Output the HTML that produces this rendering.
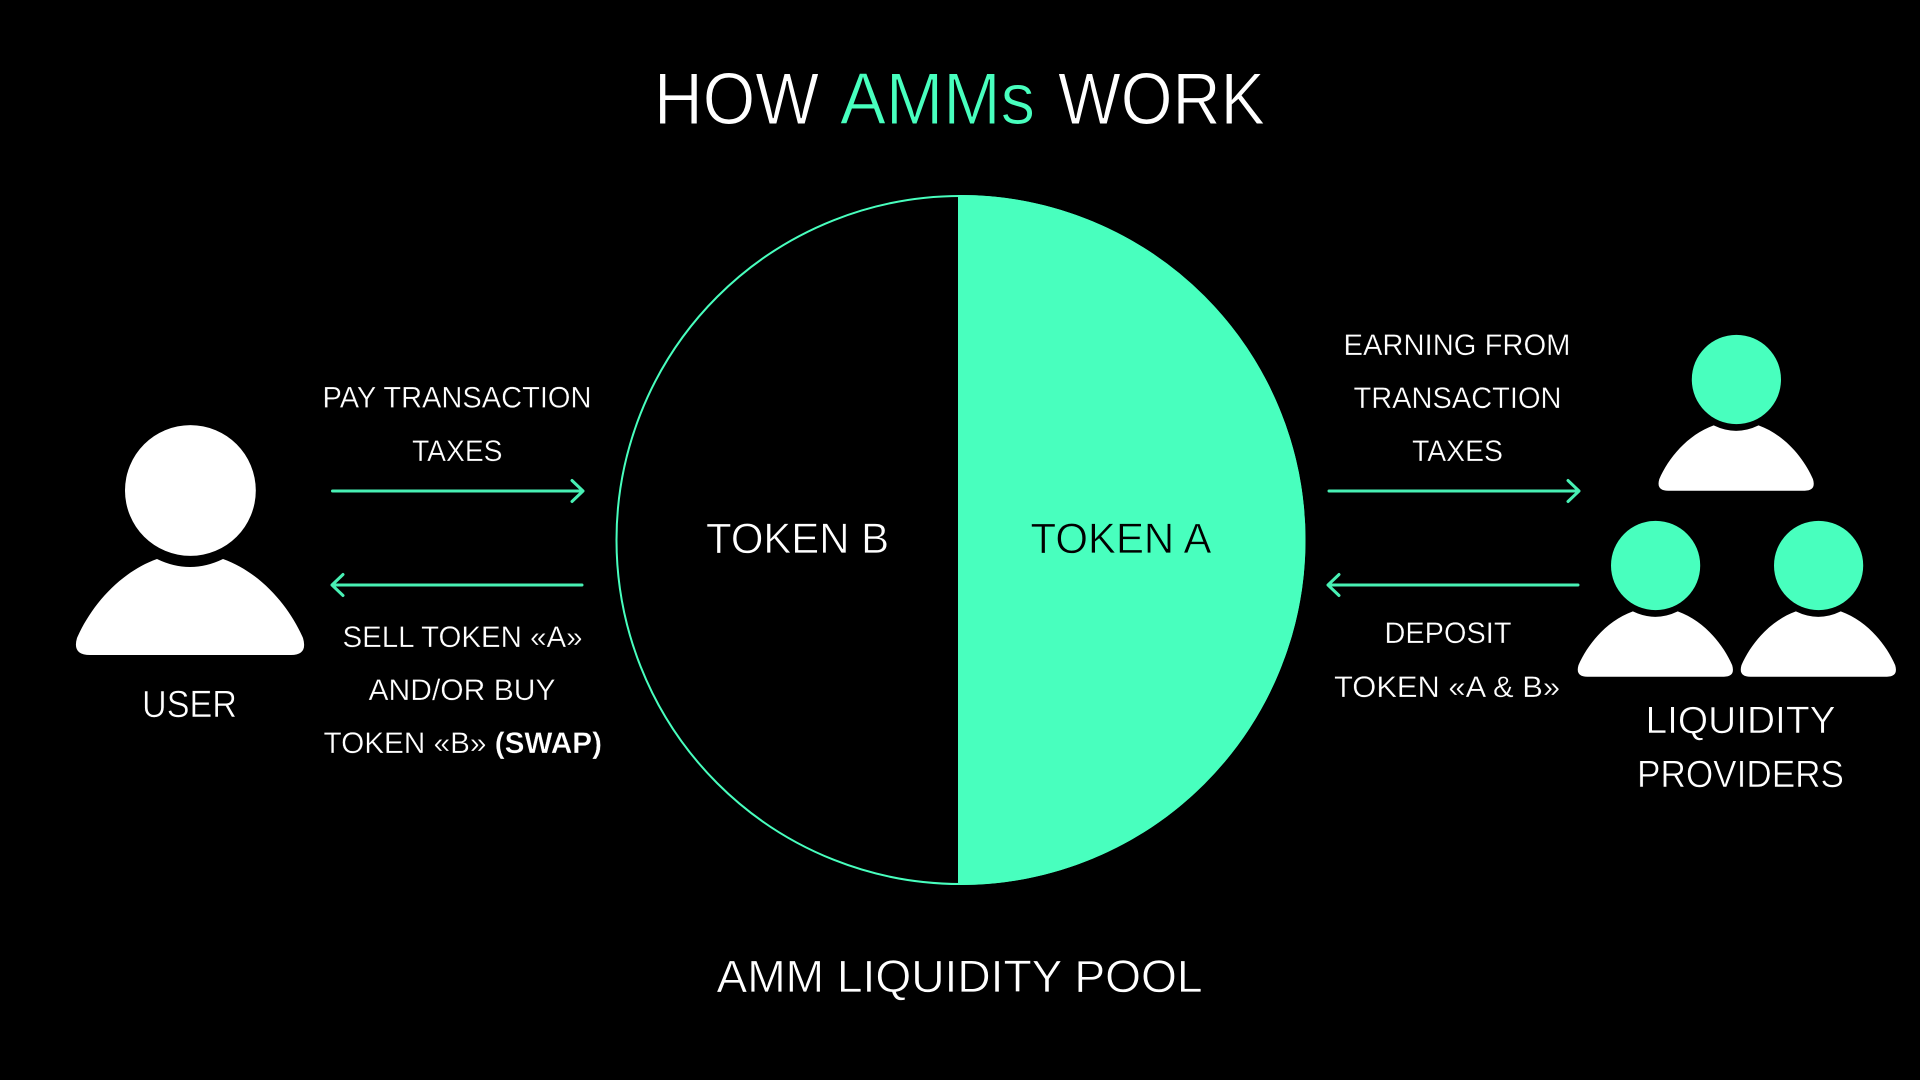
<!DOCTYPE html>
<html lang="en">
<head>
<meta charset="utf-8">
<title>How AMMs Work</title>
<style>
html,body{margin:0;padding:0;background:#000;width:1920px;height:1080px;overflow:hidden}
svg{display:block}
text{font-family:"Liberation Sans",sans-serif;fill:#fff;stroke:#000;stroke-width:.35}
.g{fill:#48ffbe}
.s{font-size:30px}
.m{font-size:38px;stroke-width:.6}
.t{font-size:73px;stroke-width:1.1}
.l{stroke-width:.7}
.arrow{fill:none;stroke:#48f0b4;stroke-width:3;stroke-linecap:round;stroke-linejoin:round}
</style>
</head>
<body>
<svg width="1920" height="1080" viewBox="0 0 1920 1080" xmlns="http://www.w3.org/2000/svg">
<defs>
<path id="body" d="M157,559 Q190,575 223,559 C262,573 290,608 303,638 Q308,655 291,655 L90,655 Q72,655 77,638 C90,608 118,573 157,559 Z"/>
<clipPath id="rightHalf"><rect x="958" y="180" width="360" height="720"/></clipPath>
</defs>
<rect width="1920" height="1080" fill="#000"/>

<!-- Title -->
<text class="t" x="654" y="124" textLength="165" lengthAdjust="spacingAndGlyphs">HOW</text>
<text class="t g" x="840" y="124" textLength="195" lengthAdjust="spacingAndGlyphs">AMMs</text>
<text class="t" x="1058" y="124" textLength="207" lengthAdjust="spacingAndGlyphs">WORK</text>

<!-- Pool -->
<circle cx="960.5" cy="540" r="344" fill="#000" stroke="#48ffbe" stroke-width="2"/>
<circle cx="960.5" cy="540" r="345" fill="#48ffbe" clip-path="url(#rightHalf)"/>
<text class="l" x="706" y="553" font-size="43" textLength="183" lengthAdjust="spacingAndGlyphs">TOKEN B</text>
<text class="l" x="1030.5" y="553" font-size="43" textLength="181" lengthAdjust="spacingAndGlyphs" style="fill:#000;stroke:#48ffbe">TOKEN A</text>
<text class="l" x="716.5" y="992" font-size="45" textLength="486" lengthAdjust="spacingAndGlyphs">AMM LIQUIDITY POOL</text>

<!-- User -->
<circle cx="190.4" cy="490.5" r="65.4" fill="#fff"/>
<use href="#body" fill="#fff"/>
<text class="m" x="142" y="717" textLength="95" lengthAdjust="spacingAndGlyphs">USER</text>

<!-- Left labels and arrows -->
<text class="s" x="322.5" y="407.5" textLength="269" lengthAdjust="spacingAndGlyphs">PAY TRANSACTION</text>
<text class="s" x="412" y="461" textLength="90.5" lengthAdjust="spacingAndGlyphs">TAXES</text>
<path class="arrow" d="M332.5,491 H583 M572,480.5 L583,491 L572,501.5"/>
<path class="arrow" d="M582,585 H332 M343,574.5 L332,585 L343,595.5"/>
<text class="s" x="342.5" y="647" textLength="240" lengthAdjust="spacingAndGlyphs">SELL TOKEN «A»</text>
<text class="s" x="368.5" y="700" textLength="187" lengthAdjust="spacingAndGlyphs">AND/OR BUY</text>
<text class="s" x="323.5" y="753" textLength="278.5" lengthAdjust="spacingAndGlyphs">TOKEN «B» <tspan font-weight="700">(SWAP)</tspan></text>

<!-- Right labels and arrows -->
<text class="s" x="1343.5" y="355" textLength="227" lengthAdjust="spacingAndGlyphs">EARNING FROM</text>
<text class="s" x="1353.5" y="408" textLength="208" lengthAdjust="spacingAndGlyphs">TRANSACTION</text>
<text class="s" x="1412" y="461" textLength="91" lengthAdjust="spacingAndGlyphs">TAXES</text>
<path class="arrow" d="M1329,491 H1579 M1568,480.5 L1579,491 L1568,501.5"/>
<path class="arrow" d="M1578,585 H1328 M1339,574.5 L1328,585 L1339,595.5"/>
<text class="s" x="1384.5" y="643" textLength="127" lengthAdjust="spacingAndGlyphs">DEPOSIT</text>
<text class="s" x="1334" y="697" textLength="226" lengthAdjust="spacingAndGlyphs">TOKEN «A &amp; B»</text>

<!-- Liquidity providers -->
<circle cx="1736.4" cy="379.5" r="44.6" fill="#48ffbe"/>
<use href="#body" fill="#fff" transform="translate(1736.4,490.7) scale(.68) translate(-190.4,-655)"/>
<circle cx="1655.6" cy="565.5" r="44.6" fill="#48ffbe"/>
<use href="#body" fill="#fff" transform="translate(1655.6,676.7) scale(.68) translate(-190.4,-655)"/>
<circle cx="1818.6" cy="565.5" r="44.6" fill="#48ffbe"/>
<use href="#body" fill="#fff" transform="translate(1818.6,676.7) scale(.68) translate(-190.4,-655)"/>
<text class="m" x="1645.5" y="733" textLength="190" lengthAdjust="spacingAndGlyphs">LIQUIDITY</text>
<text class="m" x="1637" y="787" textLength="207" lengthAdjust="spacingAndGlyphs">PROVIDERS</text>
</svg>
</body>
</html>
